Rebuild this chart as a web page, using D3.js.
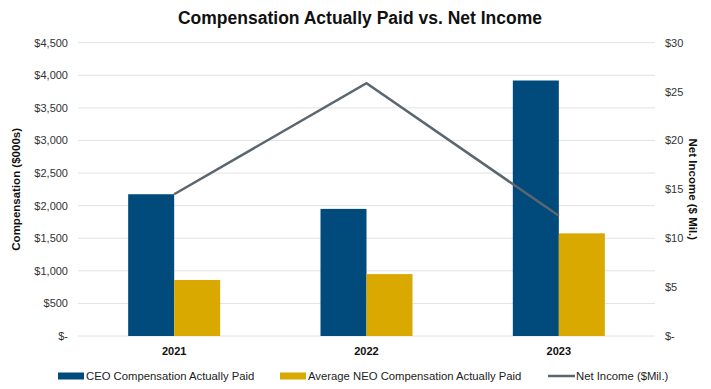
<!DOCTYPE html>
<html lang="en">
<head>
  <meta charset="UTF-8" />
  <title>Compensation Actually Paid vs. Net Income</title>
  <script src="https://d3js.org/d3.v7.min.js"></script>
  <style>
    html, body { margin: 0; padding: 0; background: #fff; }
    svg { display: block; font-family: "Liberation Sans", Arial, sans-serif; }
    .tick-label { font-size: 11px; fill: #333; }
    .axis-title { font-size: 11.5px; font-weight: bold; fill: #111; }
    .cat-label { font-size: 11px; font-weight: bold; fill: #111; text-anchor: middle; }
    .legend-text { font-size: 11.3px; fill: #222; }
  </style>
</head>
<body>
  <svg width="711" height="389"></svg>
  <script>
    const years = ["2021", "2022", "2023"];
    const ceoPaid = [2175, 1950, 3920];
    const neoPaid = [860, 950, 1575];
    const netIncome = [14.5, 25.85, 12.3];
    const leftTicks = [0, 500, 1000, 1500, 2000, 2500, 3000, 3500, 4000, 4500];
    const rightTicks = [0, 5, 10, 15, 20, 25, 30];

    const colors = { ceo: "#004b7c", neo: "#d9a900", line: "#5b6670" };

    const svg = d3.select("svg");
    const plotLeft = 78, plotRight = 655, plotTop = 42.7, plotBottom = 336;

    const x = d3.scaleBand().domain(years).range([plotLeft, plotRight]);
    const yL = d3.scaleLinear().domain([0, 4500]).range([plotBottom, plotTop]);
    const yR = d3.scaleLinear().domain([0, 30]).range([plotBottom, plotTop]);
    const barW = 46;

    const fmtL = v => v === 0 ? "$-" : "$" + d3.format(",")(v);
    const fmtR = v => v === 0 ? "$-" : "$" + v;

    // title
    svg.append("text")
      .attr("x", 360).attr("y", 24)
      .attr("text-anchor", "middle")
      .style("font-size", "17.5px").style("font-weight", "bold").style("fill", "#111")
      .text("Compensation Actually Paid vs. Net Income");

    // gridlines
    svg.append("g").selectAll("line")
      .data(leftTicks)
      .enter().append("line")
      .attr("x1", plotLeft).attr("x2", plotRight)
      .attr("y1", d => yL(d)).attr("y2", d => yL(d))
      .attr("stroke", "#e2e2e2").attr("stroke-width", 1);

    // left tick labels
    svg.append("g").selectAll("text")
      .data(leftTicks)
      .enter().append("text")
      .attr("class", "tick-label")
      .attr("x", 68).attr("y", d => yL(d) + 4)
      .attr("text-anchor", "end")
      .text(fmtL);

    // right tick labels
    svg.append("g").selectAll("text")
      .data(rightTicks)
      .enter().append("text")
      .attr("class", "tick-label")
      .attr("x", 665).attr("y", d => yR(d) + 4)
      .attr("text-anchor", "start")
      .text(fmtR);

    // axis titles
    svg.append("text")
      .attr("class", "axis-title")
      .attr("transform", `translate(20,${(plotTop + plotBottom) / 2}) rotate(-90)`)
      .attr("text-anchor", "middle")
      .text("Compensation ($000s)");

    svg.append("text")
      .attr("class", "axis-title")
      .attr("transform", `translate(689,${(plotTop + plotBottom) / 2}) rotate(90)`)
      .attr("text-anchor", "middle")
      .text("Net Income ($ Mil.)");

    // bars
    const center = d => x(d) + x.bandwidth() / 2;
    svg.append("g").selectAll("rect")
      .data(years)
      .enter().append("rect")
      .attr("x", d => center(d) - barW)
      .attr("y", (d, i) => yL(ceoPaid[i]))
      .attr("width", barW)
      .attr("height", (d, i) => plotBottom - yL(ceoPaid[i]))
      .attr("fill", colors.ceo);

    svg.append("g").selectAll("rect")
      .data(years)
      .enter().append("rect")
      .attr("x", d => center(d))
      .attr("y", (d, i) => yL(neoPaid[i]))
      .attr("width", barW)
      .attr("height", (d, i) => plotBottom - yL(neoPaid[i]))
      .attr("fill", colors.neo);

    // net income line
    const line = d3.line()
      .x((d, i) => center(years[i]))
      .y(d => yR(d));
    svg.append("path")
      .datum(netIncome)
      .attr("d", line)
      .attr("fill", "none")
      .attr("stroke", colors.line)
      .attr("stroke-width", 2.5);

    // category labels
    svg.append("g").selectAll("text")
      .data(years)
      .enter().append("text")
      .attr("class", "cat-label")
      .attr("x", d => center(d)).attr("y", 355)
      .text(d => d);

    // legend
    const legend = [
      { label: "CEO Compensation Actually Paid", color: colors.ceo, type: "rect", x: 58 },
      { label: "Average NEO Compensation Actually Paid", color: colors.neo, type: "rect", x: 280 },
      { label: "Net Income ($Mil.)", color: colors.line, type: "line", x: 548 }
    ];
    const lg = svg.append("g").selectAll("g")
      .data(legend)
      .enter().append("g")
      .attr("transform", d => `translate(${d.x},376)`);
    lg.filter(d => d.type === "rect").append("rect")
      .attr("x", 0).attr("y", -3.5).attr("width", 26).attr("height", 7)
      .attr("fill", d => d.color);
    lg.filter(d => d.type === "line").append("line")
      .attr("x1", 0).attr("x2", 27).attr("y1", 0).attr("y2", 0)
      .attr("stroke", d => d.color).attr("stroke-width", 2.5);
    lg.append("text")
      .attr("class", "legend-text")
      .attr("x", 28).attr("y", 4)
      .text(d => d.label);
  </script>
</body>
</html>
